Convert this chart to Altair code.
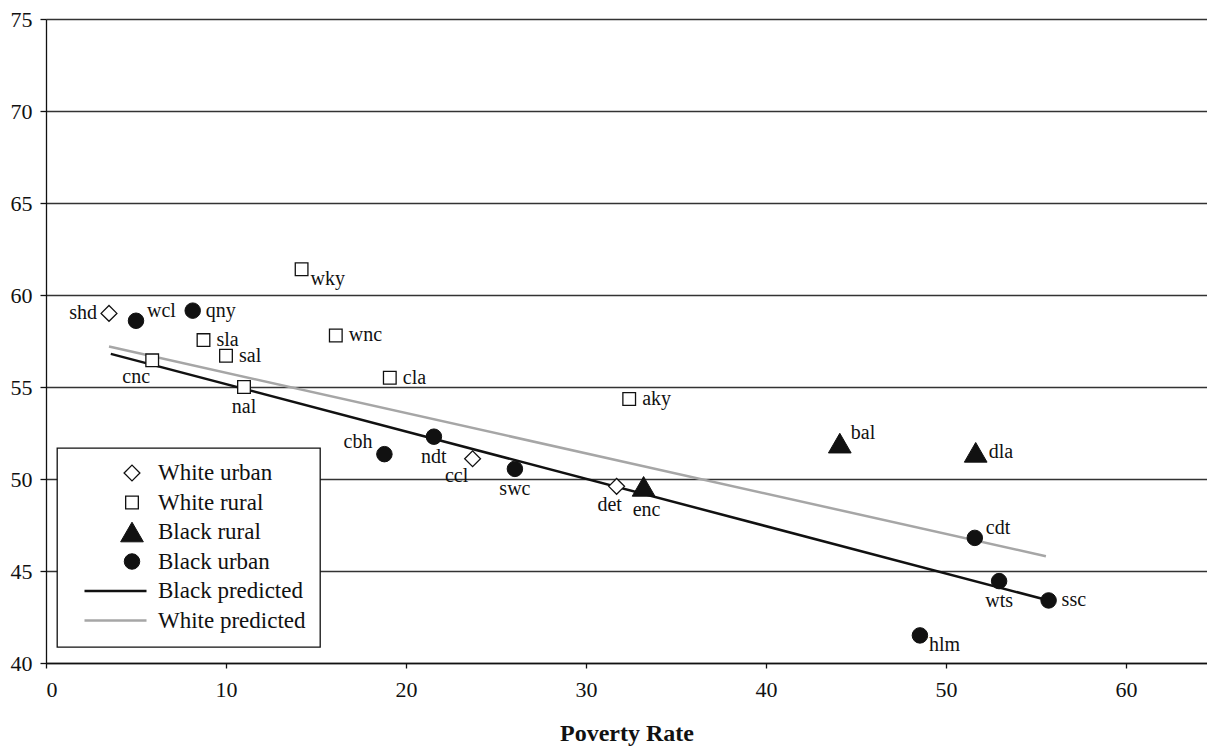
import altair as alt
import pandas as pd

FONT = "Liberation Serif"

# ---- data ----
series_order = ["White urban", "White rural", "Black rural", "Black urban",
                "Black predicted", "White predicted"]

white_urban_labels = ["shd", "ccl", "det"]
white_urban_x = [3.5, 23.7, 31.7]
white_urban_y = [59.0, 51.1, 49.6]

white_rural_labels = ["wky", "wnc", "sla", "sal", "cnc", "nal", "cla", "aky"]
white_rural_x = [14.2, 16.1, 8.75, 10.0, 5.9, 11.0, 19.1, 32.4]
white_rural_y = [61.4, 57.8, 57.55, 56.7, 56.45, 55.0, 55.5, 54.35]

black_rural_labels = ["enc", "bal", "dla"]
black_rural_x = [33.2, 44.1, 51.65]
black_rural_y = [49.6, 51.95, 51.45]

black_urban_labels = ["wcl", "qny", "cbh", "ndt", "swc", "cdt", "wts", "ssc", "hlm"]
black_urban_x = [5.0, 8.15, 18.8, 21.55, 26.05, 51.6, 52.95, 55.7, 48.55]
black_urban_y = [58.6, 59.15, 51.35, 52.3, 50.55, 46.8, 44.45, 43.4, 41.5]

black_pred_x = [3.6, 55.5]
black_pred_y = [56.8, 43.45]
white_pred_x = [3.5, 55.55]
white_pred_y = [57.2, 45.8]

# which side of its marker each label sits
label_side = {
    "shd": "left", "ccl": "belowleft", "det": "belowleftnear",
    "wky": "belowright", "wnc": "right", "sla": "right", "sal": "right",
    "cnc": "belowleft", "nal": "below", "cla": "right", "aky": "right",
    "enc": "belowfar", "bal": "upright", "dla": "right",
    "wcl": "upright", "qny": "right", "cbh": "upleft", "ndt": "below",
    "swc": "below", "cdt": "upright", "wts": "below", "ssc": "right",
    "hlm": "belowright",
}

x_ticks = [0, 10, 20, 30, 40, 50, 60]
y_ticks = [40, 45, 50, 55, 60, 65, 70, 75]

# ---- tables ----
rows = []
for name, labs, xs, ys in [
    ("White urban", white_urban_labels, white_urban_x, white_urban_y),
    ("White rural", white_rural_labels, white_rural_x, white_rural_y),
    ("Black rural", black_rural_labels, black_rural_x, black_rural_y),
    ("Black urban", black_urban_labels, black_urban_x, black_urban_y),
]:
    for l, xv, yv in zip(labs, xs, ys):
        rows.append({"x": xv, "y": yv, "label": l, "series": name, "side": label_side[l]})
pts = pd.DataFrame(rows)

lrows = []
for name, xs, ys in [("Black predicted", black_pred_x, black_pred_y),
                     ("White predicted", white_pred_x, white_pred_y)]:
    for xv, yv in zip(xs, ys):
        lrows.append({"x": xv, "y": yv, "series": name})
lines = pd.DataFrame(lrows)

# ---- encodings ----
X = alt.X("x:Q", scale=alt.Scale(domain=[0, 64.5], nice=False, zero=False),
          axis=alt.Axis(values=x_ticks, title="Poverty Rate", grid=False,
                        tickSize=5, labelPadding=11, titlePadding=21,
                        labelFont=FONT, labelFontSize=22, labelColor="#111111",
                        titleFont=FONT, titleFontWeight="bold", titleFontSize=24,
                        titleColor="#111111"))
Y = alt.Y("y:Q", scale=alt.Scale(domain=[40, 75], nice=False, zero=False),
          axis=alt.Axis(values=y_ticks, title=None, grid=True,
                        tickSize=6, labelPadding=8,
                        labelFont=FONT, labelFontSize=22, labelColor="#111111"))

line_path = "M-9.5,0H2.9"
shape_s = alt.Scale(domain=series_order,
                    range=["diamond", "square", "triangle-up", "circle", line_path, line_path])
fill_s = alt.Scale(domain=series_order,
                   range=["white", "white", "#111111", "#111111", "transparent", "transparent"])
stroke_s = alt.Scale(domain=series_order,
                     range=["#111111", "#111111", "#111111", "#111111", "#111111", "#a6a6a6"])
size_s = alt.Scale(type="ordinal", domain=series_order, range=[250, 160, 515, 240, 100, 100])
sw_s = alt.Scale(type="ordinal", domain=series_order, range=[1.3, 1.3, 1, 1, 2.5, 2.5])

lg = alt.Legend(title=None)

line_layer = alt.Chart(lines).mark_line().encode(
    x=X, y=Y,
    stroke=alt.Stroke("series:N", scale=stroke_s, legend=lg),
    strokeWidth=alt.StrokeWidth("series:N", scale=sw_s, legend=lg),
)

point_layer = alt.Chart(pts).mark_point(filled=True, opacity=1).encode(
    x=X, y=Y,
    shape=alt.Shape("series:N", scale=shape_s, legend=lg),
    fill=alt.Fill("series:N", scale=fill_s, legend=lg),
    stroke=alt.Stroke("series:N", scale=stroke_s, legend=lg),
    size=alt.Size("series:N", scale=size_s, legend=lg),
    strokeWidth=alt.StrokeWidth("series:N", scale=sw_s, legend=lg),
)

sides = {
    "left": ("right", -12, 0),
    "right": ("left", 13, 0),
    "upright": ("left", 11, -10),
    "upleft": ("right", -12, -12),
    "below": ("center", 0, 20),
    "belowfar": ("center", 3, 24),
    "belowleft": ("center", -16, 17),
    "belowleftnear": ("center", -7, 19),
    "belowright": ("left", 9, 10),
}
text_layers = []
for side, (al, dx, dy) in sides.items():
    text_layers.append(
        alt.Chart(pts).transform_filter(alt.datum.side == side).mark_text(
            align=al, baseline="middle", dx=dx, dy=dy, font=FONT,
            fontSize=20, color="#111111"
        ).encode(x=X, y=Y, text="label:N")
    )

chart = alt.layer(line_layer, point_layer, *text_layers).properties(
    width=1161, height=644,
    autosize=alt.AutoSizeParams(type="none"),
    padding={"left": 38, "top": 11, "right": 0, "bottom": 83},
).configure_view(stroke=None).configure_axis(
    labelFont=FONT, titleFont=FONT, labelFontSize=22, labelColor="#111111",
    titleColor="#111111", domainColor="#111111", domainWidth=1.3,
    tickColor="#111111", tickWidth=1.3, gridColor="#333333", gridWidth=1.3,
).configure_legend(
    orient="none", legendX=11, legendY=429, padding=14,
    strokeColor="#111111", fillColor="white", strokeWidth=1.3,
    labelFont=FONT, labelFontSize=23, labelColor="#111111",
    rowPadding=6.5, clipHeight=22, symbolOffset=49, labelOffset=14,
)

chart.save("out.html", embed_options={"renderer": "svg", "actions": False})
